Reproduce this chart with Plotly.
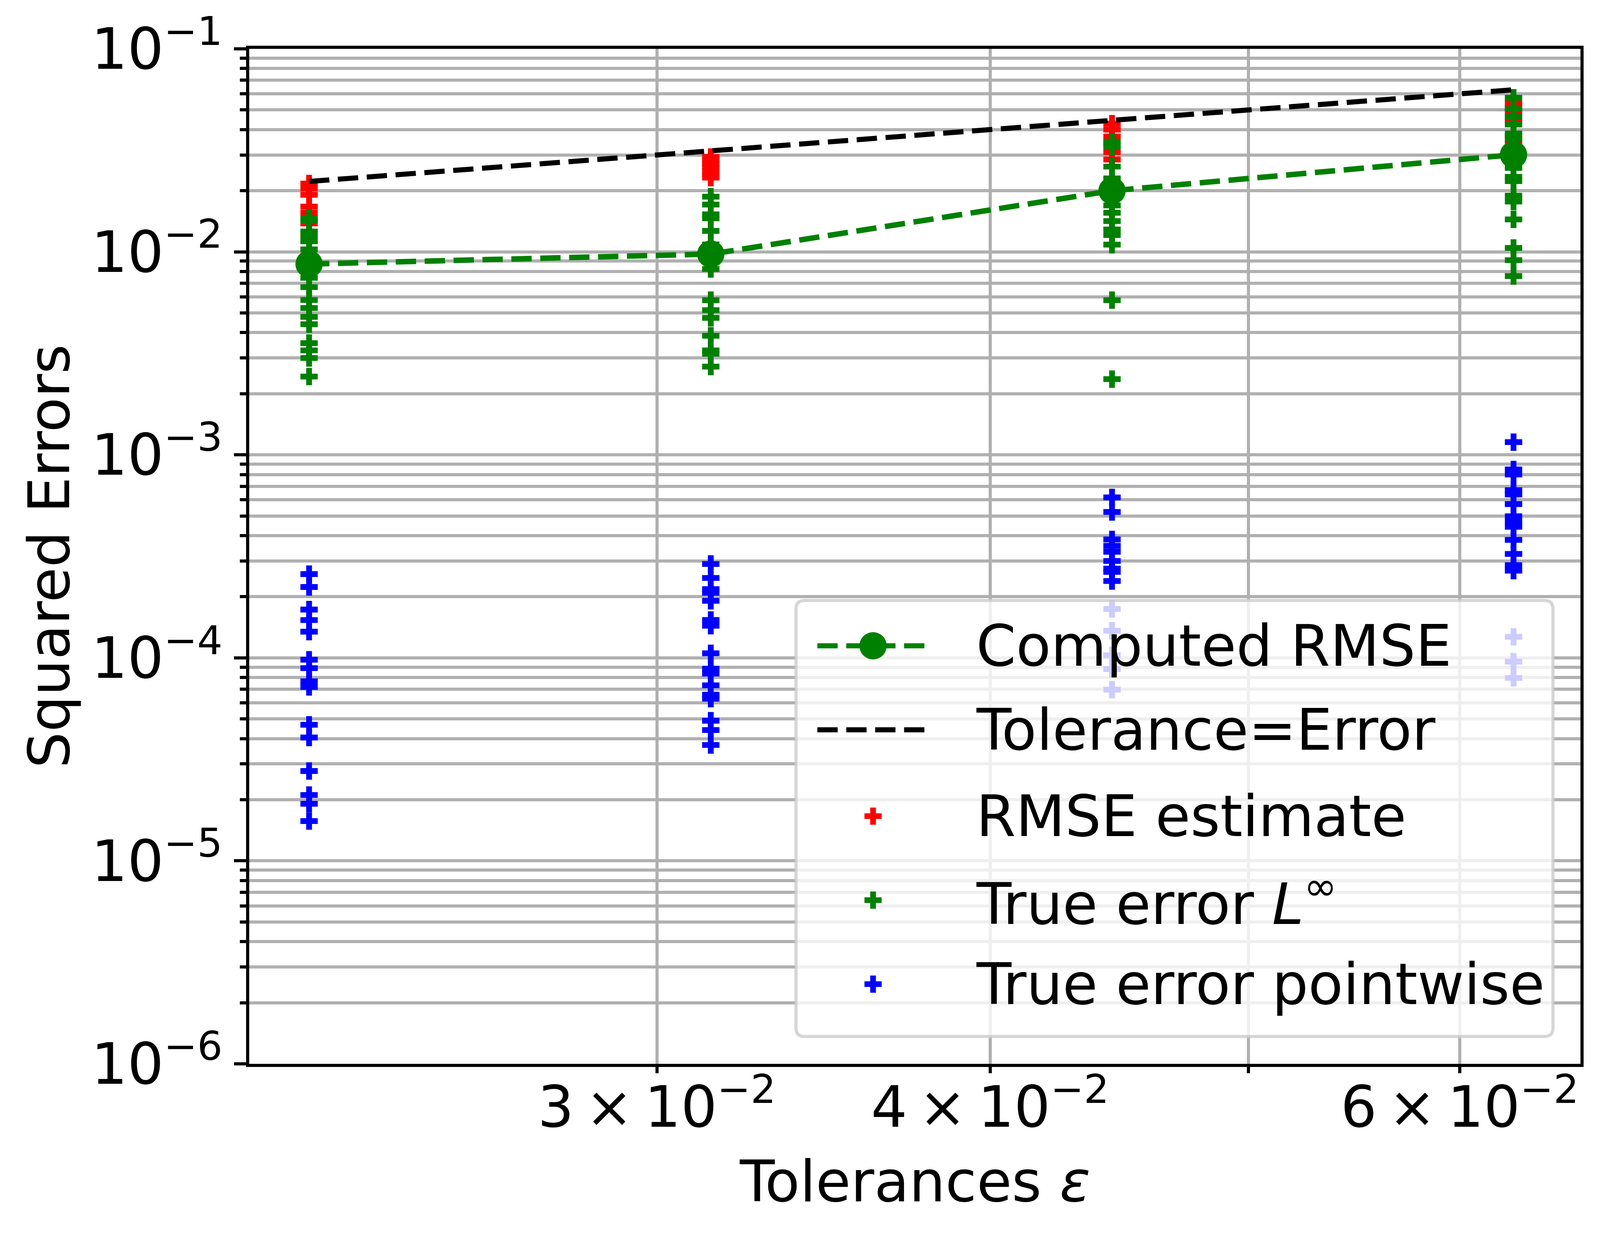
import plotly.graph_objects as go

# Tolerances (x) and summary curves
tolerances = [0.02222, 0.03143, 0.04444, 0.06285]
computed_rmse = [0.00871, 0.00975, 0.0200, 0.0301]

# Per-tolerance samples (one list per tolerance)
rmse_estimate = [
    [0.0217, 0.0205, 0.0191, 0.0167, 0.0156, 0.0138],
    [0.0293, 0.0283, 0.0272, 0.0262, 0.0250, 0.0240, 0.0232],
    [0.0428, 0.0400, 0.0370, 0.0340, 0.0310, 0.0285],
    [0.0540, 0.0513, 0.0484, 0.0443, 0.0373, 0.0342],
]
true_error_linf = [
    [0.01466, 0.0143, 0.01259, 0.01191, 0.01127, 0.01028, 0.00745, 0.0067,
     0.00579, 0.00529, 0.00478, 0.0044, 0.00355, 0.00327, 0.0030, 0.00243],
    [0.0187, 0.0171, 0.0153, 0.01462, 0.01268, 0.01088, 0.00823, 0.00578,
     0.00516, 0.00473, 0.00386, 0.00327, 0.00315, 0.00272],
    [0.0349, 0.0328, 0.0263, 0.0230, 0.01693, 0.01557, 0.01417, 0.01289,
     0.01210, 0.01085, 0.00578, 0.00236],
    [0.0574, 0.0505, 0.0462, 0.0424, 0.0383, 0.0359, 0.0259, 0.0234, 0.0223,
     0.0189, 0.0177, 0.01445, 0.01045, 0.0091, 0.0076],
]
true_error_pointwise = [
    [2.585e-4, 2.233e-4, 1.729e-4, 1.535e-4, 1.345e-4, 9.79e-5, 8.9e-5,
     7.66e-5, 7.19e-5, 4.68e-5, 4.05e-5, 2.77e-5, 2.11e-5, 1.91e-5, 1.57e-5],
    [2.90e-4, 2.475e-4, 2.18e-4, 2.09e-4, 1.91e-4, 1.536e-4, 1.44e-4,
     1.053e-4, 8.84e-5, 8.36e-5, 7.32e-5, 6.58e-5, 6.29e-5, 4.9e-5, 4.41e-5,
     3.72e-5],
    [6.17e-4, 5.23e-4, 3.83e-4, 3.56e-4, 3.33e-4, 3.0e-4, 2.75e-4, 2.65e-4,
     2.39e-4, 1.74e-4, 1.36e-4, 1.03e-4, 8.8e-5, 6.97e-5],
    [1.155e-3, 8.47e-4, 8.0e-4, 6.7e-4, 6.38e-4, 5.72e-4, 4.98e-4, 4.69e-4,
     4.42e-4, 3.81e-4, 3.25e-4, 2.86e-4, 2.69e-4, 1.27e-4, 9.57e-5, 7.96e-5],
]

y_tick_vals = [1e-6, 1e-5, 1e-4, 1e-3, 1e-2, 1e-1]
y_tick_text = ["10<sup>−6</sup>", "10<sup>−5</sup>", "10<sup>−4</sup>",
               "10<sup>−3</sup>", "10<sup>−2</sup>", "10<sup>−1</sup>"]
x_tick_vals = [0.03, 0.04, 0.05, 0.06]
x_tick_text = ["3\u2009×\u200910<sup>−2</sup>", "4\u2009×\u200910<sup>−2</sup>",
               "", "6\u2009×\u200910<sup>−2</sup>"]
y_minor_vals = [k * 10.0 ** e for e in range(-6, -1) for k in range(2, 10)]

FONT = "DejaVu Sans"
FS = 146
GRID = "#b0b0b0"
RED, GREEN, BLUE = "#ff0000", "#008000", "#0000ff"
DASH = "52px,22px"

# page is drawn ~4096 px wide; reference layout measured on 4193 px
K = 4096 / 4193
PAGE_W, PAGE_H = 4096, 3156
L, T, R, B = 653 * K, 125, 4142 * K, 2723
PW, PH = R - L, B - T


def px(X):
    return (X * K - L) / PW


def py(Y):
    return (B - Y) / PH


def flatten(groups):
    xs, ys = [], []
    for x, vals in zip(tolerances, groups):
        xs += [x] * len(vals)
        ys += vals
    return xs, ys


fig = go.Figure()

for name, groups, color in [
    ("RMSE estimate", rmse_estimate, RED),
    ("True error L∞", true_error_linf, GREEN),
    ("True error pointwise", true_error_pointwise, BLUE),
]:
    xs, ys = flatten(groups)
    fig.add_trace(go.Scatter(
        x=xs, y=ys, mode="markers", name=name,
        marker=dict(symbol="cross", size=37, color=color, line=dict(width=0)),
    ))

fig.add_trace(go.Scatter(
    x=tolerances, y=computed_rmse, mode="lines+markers", name="Computed RMSE",
    line=dict(color=GREEN, width=14, dash=DASH),
    marker=dict(symbol="circle", size=70, color=GREEN),
))
fig.add_trace(go.Scatter(
    x=tolerances, y=tolerances, mode="lines", name="Tolerance=Error",
    line=dict(color="#000000", width=13, dash=DASH),
))

axis_common = dict(
    type="log", showline=True, linecolor="black", linewidth=8, mirror=True,
    ticks="outside", tickcolor="black", tickwidth=8,
    showgrid=True, gridcolor=GRID, gridwidth=8,
    tickfont=dict(family=FONT, size=FS, color="black"),
    zeroline=False, automargin=False,
)

fig.update_xaxes(
    **axis_common,
    range=[-1.6757, -1.1766],
    tickmode="array", tickvals=x_tick_vals, ticktext=x_tick_text,
    ticklen=16, ticklabelstandoff=-38,
)
fig.update_yaxes(
    **axis_common,
    range=[-6, -1],
    tickmode="array", tickvals=y_tick_vals, ticktext=y_tick_text,
    ticklen=31,
    minor=dict(tickmode="array", tickvals=y_minor_vals, ticks="outside",
               ticklen=16, tickwidth=8, tickcolor="black",
               showgrid=True, gridcolor=GRID, gridwidth=8),
)

shapes, annotations = [], []

# axis titles
annotations.append(dict(text="Tolerances <i>ε</i>", xref="paper", yref="paper",
                        x=0.5, y=py(3024), xanchor="center", yanchor="middle",
                        showarrow=False,
                        font=dict(family=FONT, size=FS, color="black")))
annotations.append(dict(text="Squared Errors", xref="paper", yref="paper",
                        x=px(129), y=0.5, xanchor="center", yanchor="middle",
                        textangle=-90, showarrow=False,
                        font=dict(family=FONT, size=FS, color="black")))

# ---- legend drawn by hand (matplotlib look: big symbols, rounded box)
bx0, by0, bx1, by1, rad = 2086, 1537, 4070, 2653, 22
x0, x1, y0, y1 = px(bx0), px(bx1), py(by1), py(by0)
rx, ry = rad / PW, rad / PH
box = (f"M{x0+rx},{y1} L{x1-rx},{y1} Q{x1},{y1} {x1},{y1-ry} "
       f"L{x1},{y0+ry} Q{x1},{y0} {x1-rx},{y0} L{x0+rx},{y0} "
       f"Q{x0},{y0} {x0},{y0+ry} L{x0},{y1-ry} Q{x0},{y1} {x0+rx},{y1} Z")
shapes.append(dict(type="path", path=box, xref="paper", yref="paper",
                   layer="above", fillcolor="rgba(255,255,255,0.8)",
                   line=dict(color="rgba(204,204,204,0.8)", width=8)))

h, a = 22, 7.3
cross = (f"M{h},{a} L{a},{a} L{a},{h} L{-a},{h} L{-a},{a} L{-h},{a} "
         f"L{-h},{-a} L{-a},{-a} L{-a},{-h} L{a},{-h} L{a},{-a} L{h},{-a} Z")

legend_rows = [
    ("Computed RMSE", "line+circle", GREEN, 1653),
    ("Tolerance=Error", "line", "#000000", 1868),
    ("RMSE estimate", "cross", RED, 2089),
    ("True error <i>L</i><sup>∞</sup>", "cross", GREEN, 2304),
    ("True error pointwise", "cross", BLUE, 2519),
]
sym_x0, sym_x1, sym_c, text_x = 2142, 2433, 2288, 2556
for label, kind, color, yc in legend_rows:
    if kind.startswith("line"):
        shapes.append(dict(type="line", xref="paper", yref="paper",
                           layer="above", x0=px(sym_x0), x1=px(sym_x1),
                           y0=py(yc), y1=py(yc),
                           line=dict(color=color, width=13, dash=DASH)))
    if kind.endswith("circle"):
        shapes.append(dict(type="circle", xref="paper", yref="paper",
                           layer="above", xsizemode="pixel",
                           ysizemode="pixel", xanchor=px(sym_c),
                           yanchor=py(yc), x0=-35, x1=35, y0=-35, y1=35,
                           fillcolor=color, line=dict(width=0)))
    if kind == "cross":
        shapes.append(dict(type="path", xref="paper", yref="paper",
                           layer="above", xsizemode="pixel",
                           ysizemode="pixel", xanchor=px(sym_c),
                           yanchor=py(yc), path=cross,
                           fillcolor=color, line=dict(width=0)))
    annotations.append(dict(text=label, xref="paper", yref="paper",
                            x=px(text_x), y=py(yc), xanchor="left",
                            yanchor="middle", showarrow=False,
                            font=dict(family=FONT, size=FS, color="black")))

# figure sits inside the page's 8px body margin
fig.update_layout(
    width=PAGE_W - 16, height=PAGE_H - 16,
    margin=dict(l=L - 8, r=PAGE_W - 8 - R, t=T - 8, b=PAGE_H - 8 - B),
    plot_bgcolor="white", paper_bgcolor="white",
    font=dict(family=FONT, size=FS, color="black"),
    showlegend=False,
    shapes=shapes,
    annotations=annotations,
)

fig.write_html("out.html")
